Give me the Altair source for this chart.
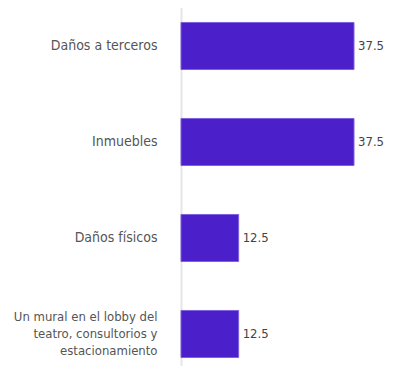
import altair as alt
import pandas as pd

categories = [
    "Daños a terceros",
    "Inmuebles",
    "Daños físicos",
    "Un mural en el lobby del\nteatro, consultorios y\nestacionamiento",
]
values = [37.5, 37.5, 12.5, 12.5]
value_labels = ["37.5", "37.5", "12.5", "12.5"]

df = pd.DataFrame({"cat": categories, "val": values, "lab": value_labels})

FONT = "DejaVu Sans Condensed, Liberation Sans Narrow, Arial Narrow"
MULTI = "length(split(datum.label, '\\n')) > 1"

y_enc = alt.Y(
    "cat:N",
    sort=None,
    title=None,
    scale=alt.Scale(paddingInner=0.51, paddingOuter=0.255),
    axis=alt.Axis(
        labelExpr="split(datum.label, '\\n')",
        labelFont=FONT,
        labelFontSize={"condition": {"test": MULTI, "value": 13}, "value": 14},
        labelColor="#555555",
        labelLineHeight=17,
        labelPadding=24,
        labelOffset={"condition": {"test": MULTI, "value": -17}, "value": 0},
        ticks=False,
        grid=False,
        domainColor="#e6e6e6",
        domainWidth=2,
        labelLimit=0,
    ),
)

x_enc = alt.X("val:Q", title=None, axis=None, scale=alt.Scale(domain=[0, 37.5], nice=False))

bars = alt.Chart(df).mark_bar(color="#4B20CA", stroke="#7d61de", strokeWidth=1).encode(
    x=x_enc, y=y_enc
)

text = alt.Chart(df).mark_text(
    align="left", baseline="middle", dx=4, font=FONT, fontSize=13, color="#444444"
).encode(x=x_enc, y=alt.Y("cat:N", sort=None), text="lab:N")

chart = (
    alt.layer(bars, text)
    .properties(
        width=173,
        height=384,
        background="white",
        autosize=alt.AutoSizeParams(type="none"),
        padding={"left": 173, "top": -10, "right": 34, "bottom": -16},
    )
    .configure_view(stroke="transparent", strokeWidth=0)
)

chart.save("out.html", embed_options={"renderer": "svg", "actions": False})
